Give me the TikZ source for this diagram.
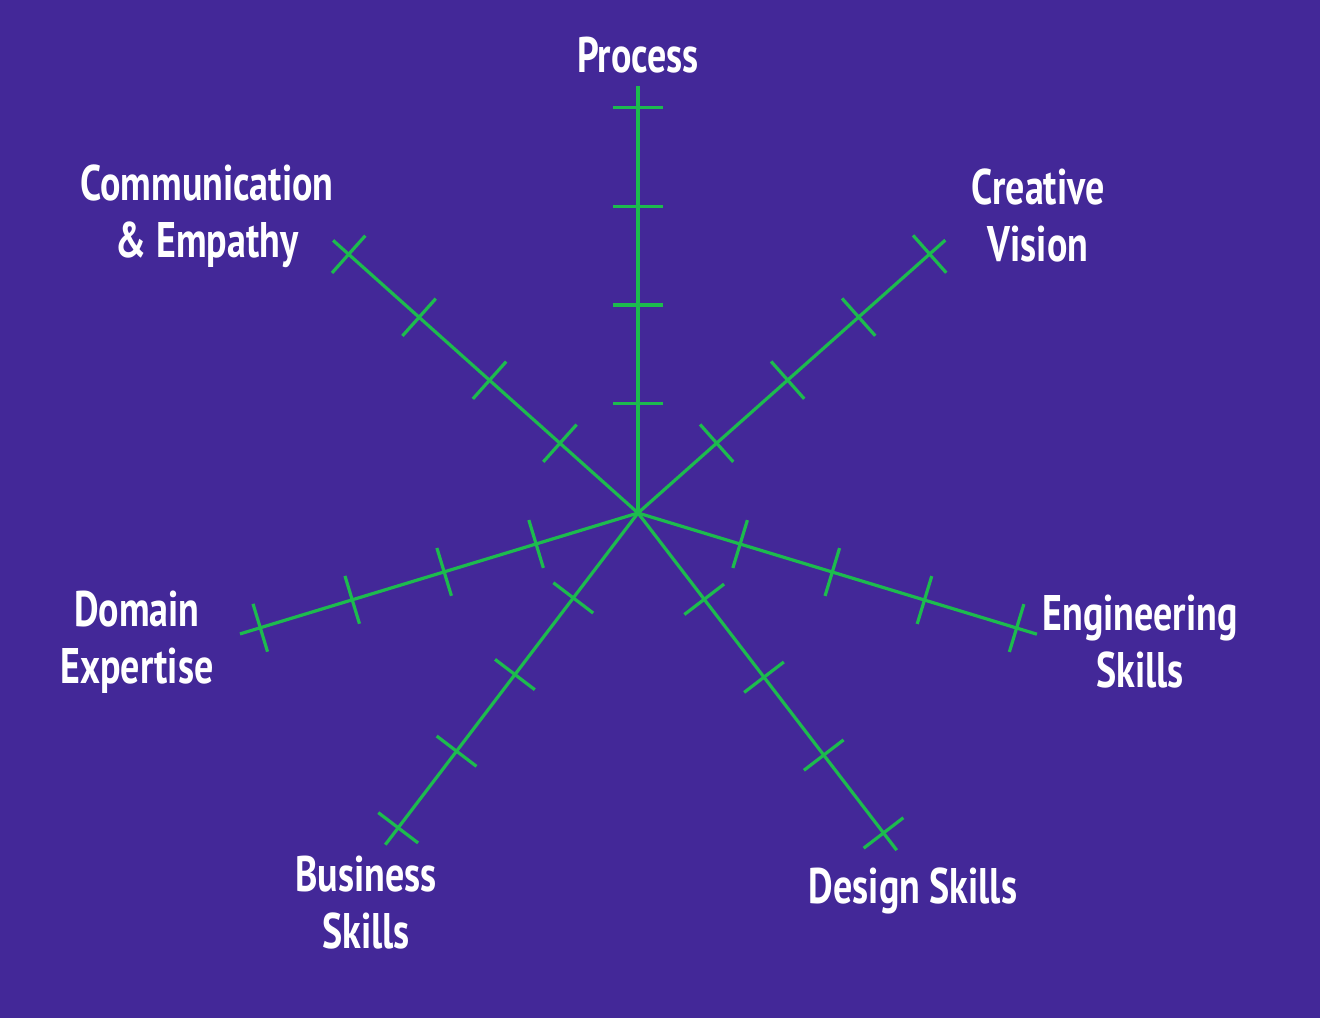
\documentclass[tikz,border=0pt]{standalone}
\usepackage{fontspec}
\setmainfont{PT Sans}[FakeStretch=0.76]
\usepackage{tikz}
\usetikzlibrary{calc,positioning}
\definecolor{bgcolor}{RGB}{67,40,152}
\definecolor{axiscolor}{RGB}{29,187,78}
\tikzstyle{axisline}=[line width=3.2pt,axiscolor]
\tikzstyle{axislabel}=[text=white,align=center,inner sep=0pt,font=\fontsize{50}{57}\selectfont\bfseries]

\begin{document}
\begin{tikzpicture}[x=1pt,y=1pt]
\def\tickhalf{25pt}

	% Background
    \useasboundingbox[fill=bgcolor] (-638,-505) rectangle (682,513);

    \coordinate (c) at (0,0);

	% Axes with ticks
    \foreach \name/\ang/\len in {proc/90/427,crea/41.6/411,engi/-16.9/417,desi/-52.5/425,busi/-127.3/417,doma/-163.1/416,comm/138.2/409}{
        \coordinate (e-\name) at (\ang:\len);
        \draw[axisline] (c) -- (e-\name);
        \foreach \f in {0.256,0.487,0.718,0.949}
            \draw[axisline] ($(c)!\f!(e-\name)!\tickhalf!90:(e-\name)$) -- ($(c)!\f!(e-\name)!\tickhalf!-90:(e-\name)$);
    }

	% Labels
    \node[axislabel] (L-proc) at (0,458) {Process};
    \node[axislabel] (L-crea) at (400,297) {Creative\\Vision};
    \node[axislabel] (L-engi) at (502,-129) {Engineering\\Skills};
    \node[axislabel] (L-desi) at (275,-378) {Design Skills};
    \node[axislabel] (L-busi) at (-272,-390) {Business\\Skills};
    \node[axislabel] (L-doma) at (-501,-129) {Domain\\Expertise};
    \node[axislabel] (L-comm) at (-431,297) {Communication\\\& Empathy};

\end{tikzpicture}
\end{document}
